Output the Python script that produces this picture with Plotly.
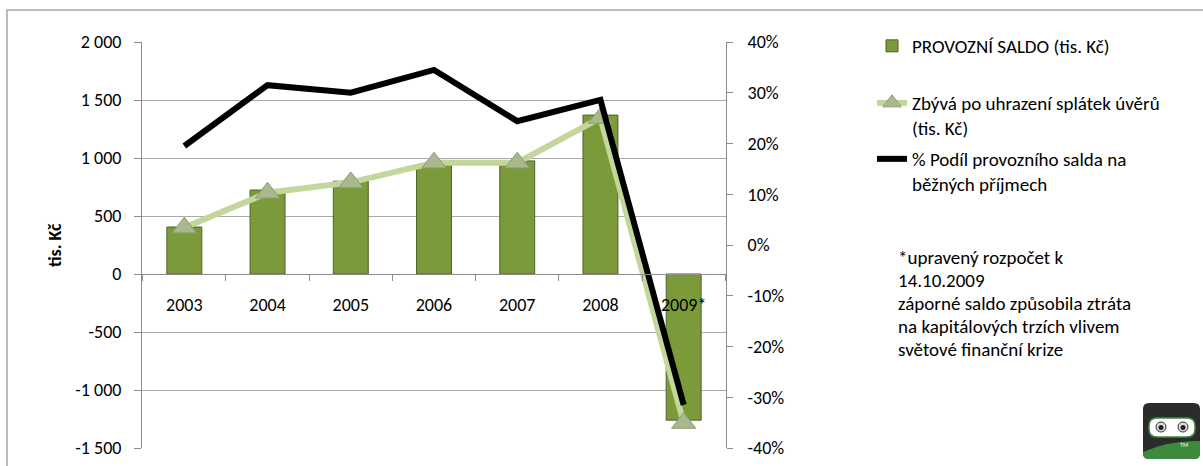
import plotly.graph_objects as go

# data
years = ["2003", "2004", "2005", "2006", "2007", "2008", "2009*"]
provozni_saldo = [405, 724, 800, 940, 975, 1370, -1260]
zbyva = [400, 700, 790, 960, 960, 1345, -1285]
podil = [0.195, 0.315, 0.30, 0.345, 0.244, 0.286, -0.315]

left_ticks = [2000, 1500, 1000, 500, 0, -500, -1000, -1500]
left_ticktext = ["2 000", "1 500", "1 000", "500", "0", "-500", "-1 000", "-1 500"]
right_ticks = [0.4, 0.3, 0.2, 0.1, 0.0, -0.1, -0.2, -0.3, -0.4]
right_ticktext = ["40%", "30%", "20%", "10%", "0%", "-10%", "-20%", "-30%", "-40%"]

note_lines = ["*upravený rozpočet k", "14.10.2009", "záporné saldo způsobila ztráta",
              "na kapitálových trzích vlivem", "světové finanční krize"]

W, H = 1203, 466
FONT = "Carlito, Lato, sans-serif"
GRID = "#ABABAB"
AXIS = "#8C8C8C"
TICK_SIZE = 18
TEXT_SIZE = 19

def px(x): return x / W
def py(y): return 1 - y / H

xdom = [px(142), px(726)]
ydom = [py(448), py(42)]
ymin, ymax = -1500, 2000
x_axis_pos = ydom[0] + (0 - ymin) / (ymax - ymin) * (ydom[1] - ydom[0])

fig = go.Figure()

fig.add_trace(go.Bar(x=years, y=provozni_saldo, name="PROVOZNÍ SALDO (tis. Kč)",
                     marker=dict(color="#7B9B3A", line=dict(color="#4F6228", width=1)),
                     width=0.42, legend="legend"))
fig.add_trace(go.Scatter(x=years, y=zbyva, mode="lines+markers",
                         name="Zbývá po uhrazení splátek úvěrů<br>(tis. Kč)",
                         line=dict(color="#C3D69B", width=6),
                         marker=dict(symbol="triangle-up", size=21, color="#A9B98C",
                                     line=dict(color="#8E9C7A", width=1)),
                         legend="legend2"))
fig.add_trace(go.Scatter(x=years, y=podil, mode="lines", yaxis="y2",
                         name="% Podíl provozního salda na<br>běžných příjmech",
                         line=dict(color="black", width=6), legend="legend3"))

legend_style = dict(xanchor="left", yanchor="top", valign="top",
                    font=dict(size=TEXT_SIZE), bgcolor="rgba(0,0,0,0)")

fig.update_layout(
    width=W, height=H, margin=dict(l=0, r=0, t=0, b=0),
    paper_bgcolor="white", plot_bgcolor="white",
    font=dict(family=FONT, size=TICK_SIZE, color="black"),
    showlegend=True,
    xaxis=dict(domain=xdom, anchor="free", position=x_axis_pos, type="category",
               showline=True, linecolor=AXIS, linewidth=1, ticks="outside", tickson="boundaries",
               ticklen=6, tickcolor=AXIS, showgrid=False, zeroline=False,
               ticklabelstandoff=14, automargin=False),
    yaxis=dict(domain=ydom, range=[ymin, ymax], tickvals=left_ticks, ticktext=left_ticktext,
               showline=True, linecolor=AXIS, ticks="outside", ticklen=7, tickcolor=AXIS,
               showgrid=True, gridcolor=GRID, gridwidth=1, zeroline=False, automargin=False,
               ticklabelstandoff=9),
    yaxis2=dict(overlaying="y", side="right", anchor="x", range=[-0.4, 0.4],
                tickvals=right_ticks, ticktext=right_ticktext,
                showline=True, linecolor=AXIS, ticks="outside", ticklen=6, tickcolor=AXIS,
                showgrid=False, zeroline=False, automargin=False, ticklabelstandoff=11),
    legend=dict(x=px(872), y=py(27), **legend_style),
    legend2=dict(x=px(872), y=py(84), **legend_style),
    legend3=dict(x=px(872), y=py(140), **legend_style),
)

# axis title
fig.add_annotation(x=px(42), y=py(245), xref="paper", yref="paper", text="<b>tis. Kč</b>",
                   textangle=-90, showarrow=False, font=dict(size=TICK_SIZE))

# note text
for i, line in enumerate(note_lines):
    fig.add_annotation(x=px(896), y=py(257 + 23 * i), xref="paper", yref="paper", text=line,
                       xanchor="left", yanchor="middle", showarrow=False, font=dict(size=TEXT_SIZE))

# outer chart border
fig.add_shape(type="rect", xref="paper", yref="paper", x0=px(7), y0=py(475), x1=px(1210), y1=py(10),
              line=dict(color="#A6A6A6", width=1.5), layer="below")

# logo
def rpath(x0, y0, x1, y1, r):
    return (f"M {px(x0+r)},{py(y0)} L {px(x1-r)},{py(y0)} Q {px(x1)},{py(y0)} {px(x1)},{py(y0+r)} "
            f"L {px(x1)},{py(y1-r)} Q {px(x1)},{py(y1)} {px(x1-r)},{py(y1)} L {px(x0+r)},{py(y1)} "
            f"Q {px(x0)},{py(y1)} {px(x0)},{py(y1-r)} L {px(x0)},{py(y0+r)} Q {px(x0)},{py(y0)} {px(x0+r)},{py(y0)} Z")

fig.add_shape(type="path", xref="paper", yref="paper", path=rpath(1143, 403, 1200, 459, 6),
              fillcolor="#2B2B2B", line=dict(width=0))
fig.add_shape(type="path", xref="paper", yref="paper",
              path=(f"M {px(1143)},{py(452)} Q {px(1170)},{py(440)} {px(1200)},{py(441)} "
                    f"L {px(1200)},{py(453)} Q {px(1200)},{py(459)} {px(1194)},{py(459)} "
                    f"L {px(1149)},{py(459)} Q {px(1143)},{py(459)} {px(1143)},{py(453)} Z"),
              fillcolor="#3E8A3C", line=dict(width=0))
fig.add_shape(type="path", xref="paper", yref="paper", path=rpath(1149, 418, 1195, 437, 8),
              fillcolor="white", line=dict(color="#3E8A3C", width=1.5))
for cx in (1161, 1183):
    fig.add_shape(type="circle", xref="paper", yref="paper", x0=px(cx - 5), x1=px(cx + 5),
                  y0=py(432), y1=py(422), fillcolor="#DDDDDD", line=dict(color="#333333", width=1))
    fig.add_shape(type="circle", xref="paper", yref="paper", x0=px(cx - 2.5), x1=px(cx + 2.5),
                  y0=py(430), y1=py(425), fillcolor="#222222", line=dict(width=0))
fig.add_annotation(x=px(1190), y=py(451), xref="paper", yref="paper", text="TM", showarrow=False,
                   font=dict(size=6, color="white"))

fig.write_html("out.html", config={"displayModeBar": False},
               post_script="document.body.style.margin='0px';")
